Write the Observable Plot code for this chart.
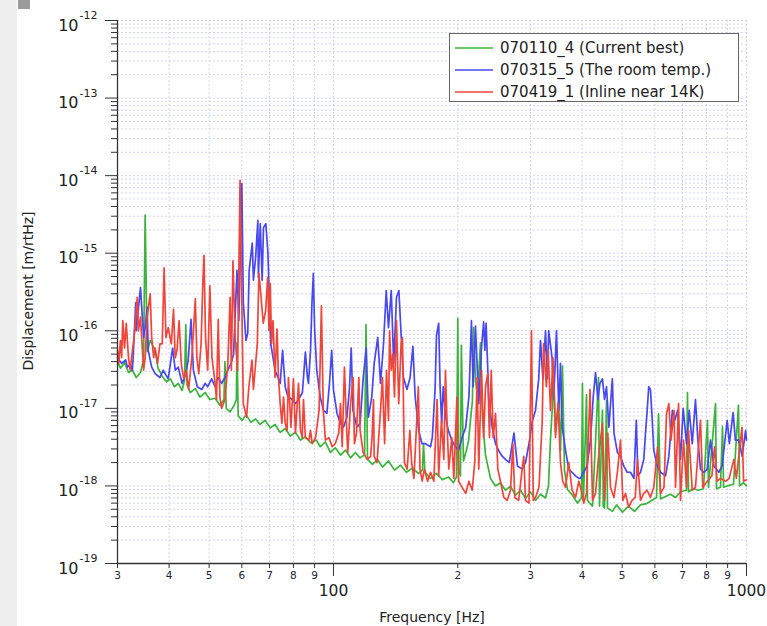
<!DOCTYPE html>
<html><head><meta charset="utf-8">
<script src="https://cdn.jsdelivr.net/npm/d3@7"></script>
<script src="https://cdn.jsdelivr.net/npm/@observablehq/plot@0.6"></script>
<style>
html,body{margin:0;padding:0;background:#fff}
body{width:767px;height:626px;overflow:hidden;position:relative;font-family:"DejaVu Sans",sans-serif}
#strip{position:absolute;left:0;top:0;width:17px;height:626px;background:#eeeeee}
#sq{position:absolute;left:18px;top:0;width:12px;height:9px;background:#9b9b9b}
#chart{position:absolute;left:0;top:0}
</style></head><body>
<div id="strip"></div><div id="sq"></div><div id="chart"></div>
<script>
// Series names
const seriesNames = ["070110_4 (Current best)", "070315_5 (The room temp.)", "070419_1 (Inline near 14K)"];
const seriesColors = ["#3cb43c", "#4848f0", "#f0463a"];

// Frequency [Hz], displacement [m/rtHz]
const green = [
[30,4.0e-17],[30.5,3.3e-17],[31.2,3.9e-17],[31.9,2.9e-17],[32.6,3.1e-17],[33.3,2.5e-17],[34.1,2.9e-17],[34.7,4.2e-17],
[35.0,3.1e-15],[35.4,5.4e-17],[36.0,7.5e-17],[37.0,5.6e-17],[37.6,3.3e-17],[38.5,2.6e-17],[39.4,2.2e-17],[40.3,2.4e-17],
[41.2,1.9e-17],[42.1,2.1e-17],[43.0,1.7e-17],[43.6,2.3e-17],[43.9,1.2e-16],[44.2,2.0e-17],[45.0,1.6e-17],[46.3,1.8e-17],
[47.5,1.4e-17],[48.9,1.6e-17],[50.2,1.3e-17],[51.7,1.35e-17],[53.1,1.1e-17],[54.3,1.3e-17],[54.6,4.0e-17],[55.0,1.0e-17],
[56.2,9.0e-18],[57.5,1.1e-17],[58.2,1.3e-17],[58.4,7.0e-17],[58.8,8.0e-18],[60.1,7.0e-18],[61.4,8.3e-18],[63.1,6.6e-18],
[64.8,7.3e-18],[66.4,6.2e-18],[68.3,7.0e-18],[70.3,5.6e-18],[72.2,6.2e-18],[74.3,4.9e-18],[76.4,5.5e-18],[78.6,4.4e-18],
[80.9,4.9e-18],[83.2,3.9e-18],[85.5,4.3e-18],[88.0,3.6e-18],[90.9,3.9e-18],[92.9,3.2e-18],[95.6,3.7e-18],[98.3,2.7e-18],
[101,3.1e-18],[104,2.5e-18],[106.9,2.9e-18],[110,2.3e-18],[113,2.7e-18],[116,2.3e-18],[118.9,2.5e-18],[119.9,1.2e-16],
[120.9,2.2e-18],[124.3,1.9e-18],[127.8,2.2e-18],[131.4,1.75e-18],[135.9,2.1e-18],[140.5,1.6e-18],[145.3,1.85e-18],
[150.2,1.5e-18],[155.4,1.7e-18],[160.6,1.45e-18],[164.2,1.6e-18],[165.2,3.5e-18],[166.5,1.5e-18],[171.8,1.25e-18],
[177.6,1.45e-18],[183.6,1.2e-18],[189.9,1.3e-18],[195.2,1.1e-18],[198.5,1.3e-18],[200,1.45e-16],[201,1.6e-18],
[203,1.35e-18],[204,6.5e-17],[206.4,2.1e-18],[209.9,2.9e-18],[212.3,3.8e-18],[214.6,7.0e-18],[217,1.25e-17],
[218.3,1.1e-16],[220.7,2.3e-17],[223.2,1.4e-17],[225.7,4.2e-17],[227,7.0e-17],[229.6,7.0e-18],[233.4,2.5e-18],
[240,1.25e-18],[246.8,1.0e-18],[253.7,1.1e-18],[260.9,8.8e-19],[268.3,9.9e-19],[275.8,7.6e-19],[283.7,8.8e-19],
[291.7,6.9e-19],[300,8.4e-19],[308.4,6.5e-19],[317.1,7.8e-19],[326.1,7.0e-19],[331.6,1.0e-18],[335.3,4.0e-18],
[339.1,1.1e-17],[341,3.5e-17],[344.8,5.0e-18],[350.6,1.25e-17],[354.5,2.8e-18],[358.5,3.5e-17],[362.5,1.6e-18],
[368.6,9.0e-19],[379,7.6e-19],[389.7,6.0e-19],[398.5,7.0e-19],[400.7,2.1e-17],[402.9,6.5e-19],[409.9,1.5e-17],
[412.1,6.5e-19],[423.8,5.5e-19],[438.2,2.5e-17],[440.7,5.5e-19],[448,9.4e-18],[450,5.4e-19],[453.2,5.2e-19],[458.2,1.25e-17],
[460.8,5.2e-19],[473.8,4.7e-19],[484.5,5.7e-19],[501,4.6e-19],[518,5.5e-19],[535.6,4.7e-19],[553.8,5.7e-19],
[572.7,5.9e-19],[592.2,6.6e-19],[605.6,7.1e-19],[612.4,8.5e-18],[619.3,6.8e-19],[636.8,7.3e-19],[654.6,7.8e-19],
[673.2,7.1e-19],[692.2,8.4e-19],[715.7,8.8e-19],[719.6,1.6e-17],[723.7,8.4e-19],[744,9.2e-19],[765.1,8.8e-19],
[786.7,9.2e-19],[804.5,7.0e-18],[809,9.6e-19],[841.4,1.15e-17],[846,9.2e-19],[865,9.6e-19],[874.8,5.8e-18],
[880,9.6e-19],[899.5,1.0e-18],[930,1.05e-18],[956.3,1.1e-17],[962,1.0e-18],[983.4,1.1e-18],[1000,1.0e-18]
];

const blue = [
[30,4.5e-17],[30.7,3.8e-17],[31.4,4.2e-17],[31.7,3.4e-17],[32.2,3.7e-17],[32.6,3.1e-17],[32.8,5.6e-17],[33.2,2.3e-16],
[33.3,1.0e-16],[34.1,3.6e-16],[34.5,1.35e-16],[34.7,8.2e-17],[35.0,1.1e-16],[35.4,2.0e-16],[35.6,5.6e-17],[36.3,3.4e-17],
[37.0,2.8e-17],[38.0,2.5e-17],[38.7,3.1e-17],[39.8,2.4e-17],[40.8,6.0e-17],[41.4,3.1e-17],[42.1,3.4e-17],[43.0,2.1e-17],
[43.9,2.8e-17],[44.5,4.2e-17],[45.2,1.4e-16],[45.8,3.1e-17],[46.8,1.9e-17],[48.0,1.75e-17],[48.9,2.1e-17],[49.6,1.9e-17],
[50.7,2.4e-17],[51.7,1.9e-17],[52.6,2.5e-17],[53.6,2.1e-17],[54.6,2.5e-17],[55.5,3.1e-17],[56.5,3.8e-17],[57.3,5.0e-17],
[58.4,6.0e-16],[59.0,1.35e-16],[60,7.9e-15],[60.5,2.3e-16],[61.4,7.5e-17],[62.0,9.3e-17],[62.5,6.0e-16],[63.6,1.35e-15],
[64.0,4.5e-16],[64.8,8.8e-16],[65.6,2.65e-15],[65.8,4.9e-16],[66.5,2.4e-15],[67.2,4.5e-16],[67.7,2.15e-15],[68.6,2.4e-15],
[69.4,1.0e-15],[70.5,6.8e-17],[71.4,4.5e-17],[72.2,3.1e-17],[73.4,2.5e-17],[74.3,2.1e-17],[75.3,5.6e-17],[76.4,1.9e-17],
[77.6,1.4e-17],[79.5,1.3e-17],[80.9,1.15e-17],[82.3,1.3e-17],[84.1,1.6e-17],[85.5,5.3e-17],[86.5,2.5e-17],[87.0,2.1e-17],
[88.0,5.6e-17],[88.7,2.3e-16],[89.4,5.5e-16],[90.0,1.1e-16],[91.1,3.1e-17],[92.9,1.4e-17],[94.6,9.4e-18],[96.4,8.6e-18],
[97.8,2.1e-17],[99,5.6e-17],[100,1.75e-17],[102,8.6e-18],[104,6.4e-18],[105.7,5.7e-18],[107.8,7.7e-18],[109.3,1.75e-17],
[110.4,6.0e-17],[111.5,9.4e-18],[114,5.7e-18],[116,6.4e-18],[118,2.4e-17],[120,6.0e-17],[121.5,7.7e-18],[123.8,1.4e-17],
[125.5,3.8e-17],[128,8.2e-17],[130,2.1e-17],[132.2,6.8e-17],[134.2,3.3e-16],[135.9,1.1e-16],[138,3.3e-16],[139.9,3.8e-17],
[142.1,2.7e-16],[144,3.3e-16],[146.2,6.8e-17],[147.7,2.5e-17],[150.6,1.75e-17],[153.3,2.5e-17],[155.7,6.3e-17],
[157.7,1.4e-17],[160.8,5.2e-18],[163.8,3.5e-18],[167,3.5e-18],[171.8,3.2e-18],[173.5,4.2e-18],[176.2,1.75e-17],
[177.6,8.7e-17],[179.8,1.25e-16],[181.2,1.9e-17],[182.8,6.4e-18],[184.4,1.9e-17],[186.9,7.7e-18],[189.7,5.2e-18],
[193.4,3.9e-18],[197.1,3.2e-18],[200.9,2.9e-18],[204.9,4.2e-18],[209,5.7e-18],[212.8,1.4e-17],[215.8,1.35e-16],
[217.8,1.9e-17],[220.7,1.15e-16],[224.8,1.15e-17],[228.2,6.0e-17],[231,1.3e-16],[232.6,5.6e-17],[234.2,1.25e-16],
[237.8,1.3e-17],[242.3,5.7e-18],[246.8,3.5e-18],[251.6,2.8e-18],[256.5,2.4e-18],[260.9,2.2e-18],[266.5,2.0e-18],
[273.5,4.8e-18],[279,1.8e-18],[286.3,1.65e-18],[291.7,2.0e-18],[297.4,3.5e-18],[303.3,7.0e-18],[308.4,9.4e-18],
[314,2.4e-17],[317.1,7.5e-17],[321.5,2.4e-17],[326.1,1.0e-16],[329.5,2.4e-17],[332,1.0e-16],[338.2,4.5e-17],
[341.5,1.3e-17],[346.7,1.0e-16],[351.2,9.4e-18],[354.5,3.8e-17],[358,5.7e-18],[364.6,2.9e-18],[371.2,1.65e-18],
[378.2,1.5e-18],[385.4,1.35e-18],[392.6,1.25e-18],[396.3,1.25e-18],[403.5,1.5e-18],[411,1.8e-18],[419.1,3.9e-18],
[425.5,1.4e-17],[431,2.9e-17],[436.7,1.3e-17],[441.7,2.1e-17],[447.9,2.4e-17],[453.2,1.3e-17],[458.2,1.9e-17],
[464.4,5.7e-18],[473.3,2.4e-17],[477.7,4.8e-18],[486.9,2.7e-18],[495.4,2.4e-18],[504.7,1.8e-18],[514.3,1.5e-18],
[523.8,1.5e-18],[533.9,1.25e-18],[541,7.0e-18],[546,1.35e-18],[553.8,1.5e-18],[564.1,2.2e-18],[569.5,4.8e-18],
[574.8,9.4e-18],[579.8,1.9e-17],[585.3,1.75e-17],[590.8,7.7e-18],[596.3,2.9e-18],[607.7,1.8e-18],[619.3,1.5e-18],
[636.8,1.35e-18],[648.6,2.4e-18],[661.5,9.4e-18],[670.5,7.0e-18],[681,9.4e-18],[692.2,2.2e-18],[702.5,1.0e-17],
[715.7,3.5e-18],[726.6,9.4e-18],[739,3.5e-18],[752.4,1.3e-17],[762.5,3.9e-18],[773.7,1.65e-18],[788.5,1.5e-18],
[803.5,1.65e-18],[818,3.9e-18],[834,1.8e-18],[857,1.5e-18],[872.6,1.8e-18],[897.9,7.0e-18],[909,3.5e-18],
[928,8.8e-18],[940,3.9e-18],[958,3.9e-18],[976,2.4e-18],[995,5.2e-18],[1000,3.9e-18]
];

const red = [
[30,5.6e-17],[30.2,3.8e-17],[30.5,7.5e-17],[30.7,4.5e-17],[30.9,1.35e-16],[31.2,6.0e-17],[31.5,1.25e-16],[31.9,4.5e-17],
[32.2,3.1e-17],[32.6,5.6e-17],[32.9,8.2e-17],[33.5,2.7e-16],[33.7,1.0e-16],[34.1,1.5e-16],[34.4,6.8e-17],[34.7,3.1e-17],
[35.0,4.5e-17],[35.4,1.5e-16],[36.0,3.0e-16],[36.3,8.2e-17],[36.7,4.5e-17],[37.0,6.0e-17],[37.5,3.8e-17],[38.0,6.8e-17],
[38.5,6.8e-17],[38.9,6.5e-16],[39.3,8.2e-17],[39.8,1.1e-16],[40.5,6.8e-17],[41.0,1.9e-16],[41.4,4.5e-17],[41.8,5.6e-17],
[42.3,1.35e-16],[42.8,3.8e-17],[43.4,2.4e-17],[44.0,3.1e-17],[44.6,1.75e-17],[45.4,4.5e-17],[46.3,2.6e-16],[46.7,4.5e-17],
[47.2,2.8e-17],[47.8,6.8e-17],[48.3,4.5e-16],[48.6,9.4e-16],[49.0,8.2e-17],[49.6,3.1e-17],[50.2,3.8e-16],[50.8,4.5e-17],
[51.7,2.1e-17],[52.1,1.3e-17],[52.6,1.4e-16],[53.1,1.4e-17],[53.6,1.0e-17],[54.6,1.3e-17],[55.5,3.8e-17],[56.2,2.7e-16],
[56.6,3.1e-17],[57.1,8.0e-16],[57.8,8.2e-17],[58.6,3.1e-17],[59.4,8.7e-15],[60.5,1.15e-17],[61.6,7.7e-18],[62.4,1.9e-17],
[63.5,4.2e-17],[64.0,1.75e-17],[65.4,6.8e-17],[66.0,5.5e-16],[66.8,2.7e-16],[67.6,1.25e-16],[68.5,1.8e-16],[69.3,4.9e-16],
[69.8,1.0e-16],[70.3,4.1e-16],[70.8,6.8e-17],[71.4,1.35e-16],[72.2,2.5e-17],[73.0,1.05e-16],[73.6,2.5e-17],[74.3,1.15e-17],
[75.0,6.4e-18],[75.7,1.4e-17],[76.4,6.4e-18],[77.2,5.2e-18],[77.8,2.5e-17],[78.9,5.7e-18],[80.0,2.4e-17],[80.9,4.8e-18],
[82.3,2.1e-17],[83.2,5.2e-18],[84.0,4.2e-18],[84.6,1.3e-17],[85.5,4.2e-18],[87.2,3.9e-18],[88.0,5.2e-18],[88.8,3.5e-18],
[90.5,4.2e-18],[92.3,9.4e-18],[93.5,2.1e-16],[94.5,9.4e-18],[95.6,3.9e-18],[97.5,4.2e-18],[99.3,3.2e-18],[101,3.5e-18],
[103,4.8e-18],[104,1.15e-17],[105,3.2e-18],[106.3,3.4e-17],[107.5,6.4e-18],[108.3,2.7e-18],[110,1.15e-17],[111.6,2.5e-17],
[112.4,3.5e-18],[113.7,4.8e-18],[115.2,2.5e-17],[116,5.2e-18],[118,2.7e-18],[120.7,2.2e-18],[123,2.4e-18],[124,4.2e-18],
[125,1.3e-17],[125.5,2.4e-18],[127.5,2.0e-18],[130,9.4e-18],[131.4,2.5e-17],[133,3.5e-18],[134.4,3.1e-17],[135.9,7.0e-18],
[136.7,1.0e-16],[138,3.1e-17],[139.2,5.0e-17],[140.5,1.4e-17],[142.1,1.35e-16],[143.9,1.15e-17],[145.8,6.8e-17],
[146.9,8.2e-17],[148.5,2.0e-18],[150.8,1.65e-18],[153.1,5.2e-18],[154.6,2.0e-18],[156.6,1.25e-18],[158.8,5.7e-18],
[160.5,1.9e-17],[162,1.65e-18],[164,1.15e-18],[166,1.65e-18],[169,1.15e-18],[171.8,1.5e-18],[175,1.15e-18],[178.2,1.3e-17],
[179.8,1.35e-18],[182.6,7.0e-18],[185,2.2e-18],[186.7,3.1e-17],[188.5,5.7e-18],[190.2,1.65e-18],[193.4,4.2e-18],
[195.6,1.25e-18],[199,1.4e-17],[200.9,1.15e-18],[204.9,9.6e-19],[209,8.0e-19],[212.8,1.15e-18],[216.7,8.8e-19],
[219.8,2.0e-18],[222.8,2.5e-17],[224.8,1.65e-18],[228.2,3.1e-17],[231,4.2e-18],[233.4,1.9e-17],[236.3,2.8e-17],
[238.6,4.2e-18],[241,3.1e-17],[243.6,4.2e-18],[246.8,8.6e-18],[250,1.65e-18],[253.7,1.15e-18],[258.5,7.1e-19],
[263.3,6.5e-19],[268.3,8.8e-19],[271.8,3.5e-18],[274.8,7.1e-19],[280.8,6.5e-19],[286.3,1.65e-18],[288.9,2.4e-18],
[291.7,6.5e-19],[297.4,6.0e-19],[301.6,1.0e-16],[304.6,6.5e-19],[308.4,7.1e-19],[314.5,9.6e-19],[317.1,2.4e-18],
[320.3,7.0e-18],[322.5,6.8e-17],[327.7,1.9e-17],[331,5.6e-17],[335.3,9.4e-18],[340,4.5e-17],[344.8,4.2e-18],
[349.8,1.15e-17],[354.5,2.0e-18],[359,1.15e-18],[364.6,9.6e-19],[371.2,2.0e-18],[378.2,8.8e-19],[385.4,7.1e-19],
[392.6,1.15e-18],[400,8.0e-19],[403.5,6.0e-19],[409.9,8.0e-19],[418,1.75e-17],[423.8,6.5e-19],[431,8.0e-19],
[438.5,2.4e-18],[447.9,6.4e-18],[453.2,6.5e-19],[461.5,4.8e-18],[468.6,9.6e-19],[477.7,7.1e-19],[486.9,1.5e-18],
[495.4,3.9e-18],[502,6.5e-19],[509.3,8.0e-19],[518.7,5.3e-19],[528.2,6.5e-19],[537.8,7.1e-19],[544.6,2.2e-18],
[553.8,6.5e-19],[564.1,8.0e-19],[574.8,8.8e-19],[585.3,7.1e-19],[596.3,9.6e-19],[609.3,3.2e-18],[619.3,8.0e-19],
[631.3,9.6e-19],[640.3,8.6e-18],[648.6,1.15e-17],[656.6,3.9e-18],[667.7,9.4e-18],[673.2,9.6e-19],[684.8,1.15e-17],
[692.2,6.5e-19],[704,3.9e-18],[715.7,9.6e-19],[723.7,5.2e-18],[739,8.8e-19],[752.4,9.6e-19],[773.7,7.0e-18],
[783.6,9.6e-19],[803.5,1.15e-18],[824.6,1.35e-18],[836.6,3.2e-18],[849,1.15e-18],[865,1.25e-18],[890,1.15e-18],
[908,1.25e-18],[932,2.2e-18],[945,1.25e-18],[975,5.7e-18],[984,1.15e-18],[1000,1.2e-18]
];

// Axis ticks
const xMinorTicks = [30, 40, 50, 60, 70, 80, 90, 200, 300, 400, 500, 600, 700, 800, 900];
const xMinorLabels = ["3", "4", "5", "6", "7", "8", "9", "2", "3", "4", "5", "6", "7", "8", "9"];
const xMajorTicks = [100, 1000];
const xMajorLabels = ["100", "1000"];
const yMajorTicks = [1e-19, 1e-18, 1e-17, 1e-16, 1e-15, 1e-14, 1e-13, 1e-12];
const yExponents = ["-19", "-18", "-17", "-16", "-15", "-14", "-13", "-12"];
const yMantissas = [2, 3, 4, 5, 6, 7, 8, 9];
const yMinorTicks = yMajorTicks.slice(0, -1).flatMap(d => yMantissas.map(m => m * d));

const toRows = (arr, name) => arr.map(([f, a]) => ({f, a, name}));
const gridStyle = {stroke: "#d3d3f6", strokeOpacity: 1, strokeDasharray: "2,2", strokeWidth: 1};
const font = "'DejaVu Sans', sans-serif";
const empty = () => "";

const plot = Plot.plot({
  width: 767, height: 626,
  marginLeft: 117, marginRight: 21, marginTop: 20, marginBottom: 63,
  x: {type: "log", domain: [30, 1000], label: null},
  y: {type: "log", domain: [1e-19, 1e-12], label: null},
  style: {background: "transparent", fontFamily: font, color: "#222"},
  marks: [
    Plot.gridX([...xMinorTicks, ...xMajorTicks], gridStyle),
    Plot.gridY([...yMinorTicks, ...yMajorTicks], gridStyle),
    Plot.line(toRows(green, seriesNames[0]), {x: "f", y: "a", stroke: seriesColors[0], strokeWidth: 1.7}),
    Plot.line(toRows(blue, seriesNames[1]), {x: "f", y: "a", stroke: seriesColors[1], strokeWidth: 1.7}),
    Plot.line(toRows(red, seriesNames[2]), {x: "f", y: "a", stroke: seriesColors[2], strokeWidth: 1.7}),
    Plot.ruleX([30], {stroke: "#333", strokeWidth: 1.3}),
    Plot.ruleY([1e-19], {stroke: "#333", strokeWidth: 1.3}),
    Plot.axisX(xMinorTicks, {tickSize: 5, tickFormat: empty, stroke: "#333", label: null}),
    Plot.axisX(xMajorTicks, {tickSize: 13, tickFormat: empty, stroke: "#333", label: null}),
    Plot.axisY(yMinorTicks, {tickSize: 6, tickFormat: empty, stroke: "#333", label: null}),
    Plot.axisY(yMajorTicks, {tickSize: 12, tickFormat: empty, stroke: "#333", label: null}),
    Plot.text(xMinorTicks, {x: d => d, text: (d, i) => xMinorLabels[i], frameAnchor: "bottom", dy: 15,
      fontSize: 10.5, fill: "#223"}),
    Plot.text(xMajorTicks, {x: d => d, text: (d, i) => xMajorLabels[i], frameAnchor: "bottom", dy: 32,
      fontSize: 15.5, fill: "#222"}),
    Plot.text(yMajorTicks, {y: d => d, text: () => "10", frameAnchor: "left", dx: -39, dy: 5,
      textAnchor: "end", fontSize: 16, fill: "#222"}),
    Plot.text(yMajorTicks, {y: d => d, text: (d, i) => yExponents[i], frameAnchor: "left", dx: -38, dy: -5,
      textAnchor: "start", fontSize: 11, fill: "#222"})
  ]
});
document.getElementById("chart").appendChild(plot);

// Axis titles and legend
const svg = d3.select(plot);
svg.append("text").attr("transform", "translate(29,291) rotate(-90)")
  .attr("text-anchor", "middle").attr("dominant-baseline", "middle")
  .attr("font-size", 14).attr("fill", "#222").attr("font-family", font).text("Displacement [m/rtHz]");
svg.append("text").attr("x", 432).attr("y", 618)
  .attr("text-anchor", "middle").attr("dominant-baseline", "middle")
  .attr("font-size", 14).attr("fill", "#222").attr("font-family", font).text("Frequency [Hz]");

const lg = svg.append("g");
lg.append("rect").attr("x", 449.5).attr("y", 33.5).attr("width", 289).attr("height", 68)
  .attr("fill", "#fff").attr("stroke", "#666").attr("stroke-width", 1);
seriesNames.forEach((name, i) => {
  const yy = 48 + i * 22;
  lg.append("line").attr("x1", 455).attr("x2", 493).attr("y1", yy).attr("y2", yy)
    .attr("stroke", seriesColors[i]).attr("stroke-width", 1.3);
  lg.append("text").attr("x", 500).attr("y", yy).attr("text-anchor", "start").attr("dominant-baseline", "middle")
    .attr("font-size", 15).attr("fill", "#222").attr("font-family", font).text(name);
});
</script>
</body></html>
